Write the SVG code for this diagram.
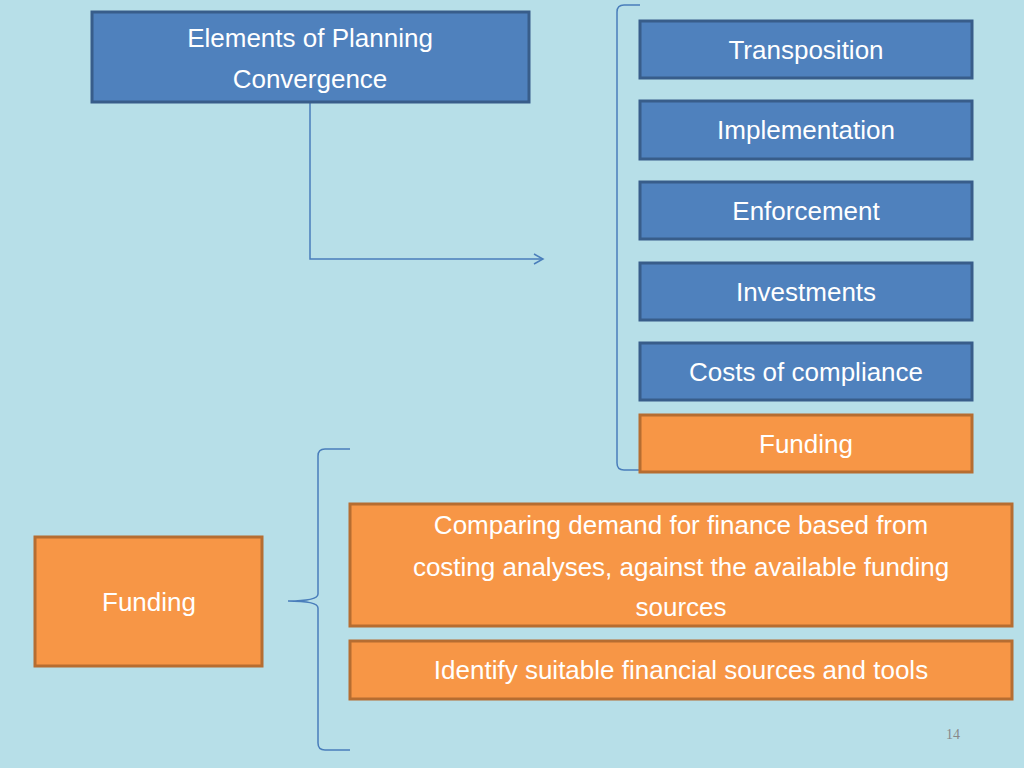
<svg xmlns="http://www.w3.org/2000/svg" width="1024" height="768" viewBox="0 0 1024 768">
<style>
.b{fill:#4f81bd;stroke:#385d8a;stroke-width:3}
.o{fill:#f79646;stroke:#b66d31;stroke-width:3}
text{font-family:"Liberation Sans",Arial,sans-serif;font-size:26px;fill:#fff;text-anchor:middle;dominant-baseline:central}
.c{fill:none;stroke:#4a7ebb;stroke-width:1.5}
</style>
<defs><marker id="a" markerWidth="12" markerHeight="12" refX="10" refY="6" orient="auto" markerUnits="userSpaceOnUse"><path d="M1,1 L10,6 L1,11" fill="none" stroke="#4a7ebb" stroke-width="1.5"/></marker></defs>
<rect width="1024" height="768" fill="#b7dfe8"/>
<g id="connectors">
<path class="c" d="M310,102 V259 H543" marker-end="url(#a)"/>
<path class="c" d="M640,5 H624 Q617,5 617,12 V463 Q617,470 624,470 H640"/>
<path class="c" d="M350,449 H325 Q318,449 318,456 V594 Q318,601 288,601 Q318,601 318,608 V743 Q318,750 325,750 H350"/>
</g>
<g id="n1"><rect class="b" x="92" y="12" width="437" height="90"/><text x="310" y="38">Elements of Planning</text><text x="310" y="79">Convergence</text></g>
<g id="n2"><rect class="b" x="640" y="21" width="332" height="57"/><text x="806" y="50">Transposition</text></g>
<g id="n3"><rect class="b" x="640" y="101" width="332" height="58"/><text x="806" y="130">Implementation</text></g>
<g id="n4"><rect class="b" x="640" y="182" width="332" height="57"/><text x="806" y="211">Enforcement</text></g>
<g id="n5"><rect class="b" x="640" y="263" width="332" height="57"/><text x="806" y="292">Investments</text></g>
<g id="n6"><rect class="b" x="640" y="343" width="332" height="57"/><text x="806" y="372">Costs of compliance</text></g>
<g id="n7"><rect class="o" x="640" y="415" width="332" height="57"/><text x="806" y="444">Funding</text></g>
<g id="n8"><rect class="o" x="35" y="537" width="227" height="129"/><text x="149" y="602">Funding</text></g>
<g id="n9"><rect class="o" x="350" y="504" width="662" height="122"/><text x="681" y="525">Comparing demand for finance based from</text><text x="681" y="567">costing analyses, against the available funding</text><text x="681" y="607">sources</text></g>
<g id="n10"><rect class="o" x="350" y="641" width="662" height="58"/><text x="681" y="670">Identify suitable financial sources and tools</text></g>
<text x="953" y="734" style="font-family:'Liberation Serif',serif;font-size:14px;fill:#888">14</text>
</svg>
